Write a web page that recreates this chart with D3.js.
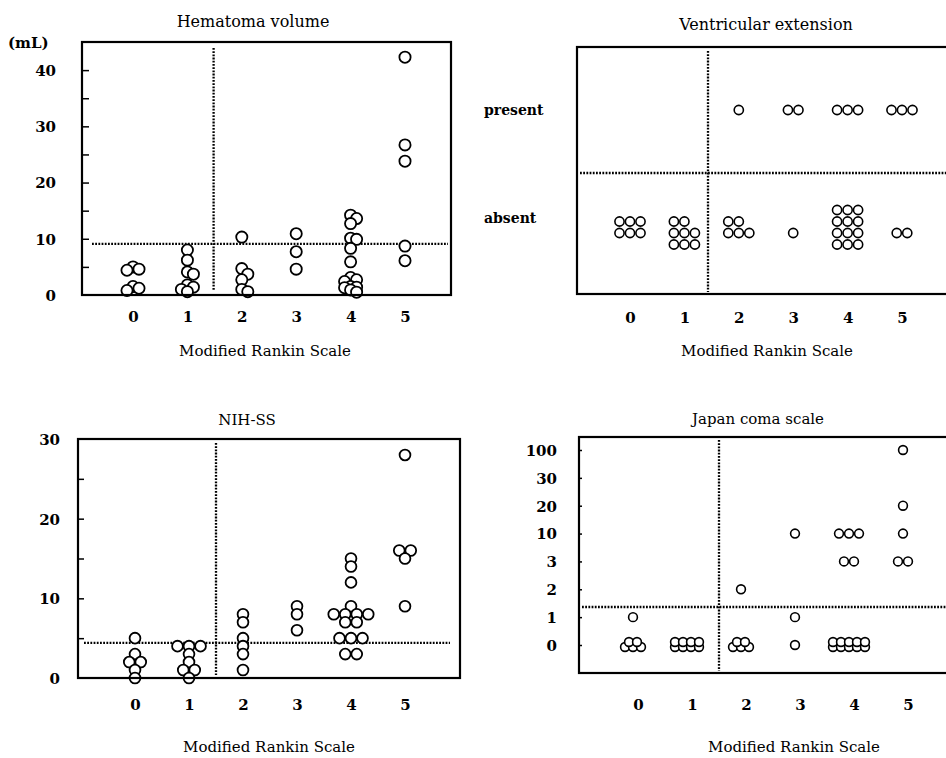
<!DOCTYPE html>
<html lang="en">
<head>
<meta charset="UTF-8">
<title>Modified Rankin Scale</title>
<script src="https://d3js.org/d3.v7.min.js"></script>
<style>
  body { margin: 0; background: #fff; }
  svg text { font-family: "DejaVu Serif", "Liberation Serif", serif; fill: #000; }
</style>
</head>
<body>
<script>
var W = 946, H = 758;

// MRS grades on every x axis
var mrs = [0, 1, 2, 3, 4, 5];
var xTitle = "Modified Rankin Scale";

// hematoma volume (mL), one list per MRS grade
var hematoma = [
  [5.0, 4.6, 4.4, 1.5, 1.2, 0.8],
  [8.0, 6.2, 4.1, 3.7, 1.8, 1.4, 1.0, 0.6],
  [10.3, 4.7, 3.7, 2.7, 1.0, 0.6],
  [10.9, 7.7, 4.6],
  [14.2, 13.6, 12.7, 10.1, 9.9, 8.3, 5.9, 3.1, 2.7, 2.4, 1.5, 1.4, 1.3, 0.9, 0.5],
  [42.3, 26.7, 23.8, 8.7, 6.1]
];
var hematomaTicks = [0, 10, 20, 30, 40];
var hematomaMinor = [5, 10, 15, 20, 25, 30, 35, 40];
var hematomaCut = 9.1;

// ventricular extension, number of patients per MRS grade
var ventLevels = ["present", "absent"];
var ventPresent = [0, 0, 1, 2, 3, 3];
var ventAbsent = [6, 8, 5, 1, 12, 2];

// NIH stroke scale, one list per MRS grade
var nihss = [
  [5, 3, 2, 2, 1, 0],
  [4, 4, 4, 3, 2, 1, 1, 0],
  [8, 7, 5, 4, 3, 1],
  [9, 8, 6],
  [15, 14, 12, 9, 8, 8, 8, 8, 7, 7, 5, 5, 5, 3, 3],
  [28, 16, 16, 15, 9]
];
var nihssTicks = [0, 10, 20, 30];
var nihssMinor = [5, 10, 15, 20, 25];
var nihssCut = 4.4;

// Japan coma scale, one list per MRS grade
var jcsLevels = ["0", "1", "2", "3", "10", "20", "30", "100"];
var jcs = [
  [1, 0, 0, 0, 0, 0],
  [0, 0, 0, 0, 0, 0, 0, 0],
  [2, 0, 0, 0, 0, 0],
  [10, 1, 0],
  [10, 10, 10, 3, 3, 0, 0, 0, 0, 0, 0, 0, 0, 0, 0],
  [100, 20, 10, 3, 3]
];

var svg = d3.select("body").append("svg").attr("width", W).attr("height", H);

function frame(b) {
  svg.append("rect")
    .attr("x", b.l).attr("y", b.t)
    .attr("width", b.r - b.l).attr("height", b.b - b.t)
    .attr("fill", "none").attr("stroke", "#000").attr("stroke-width", 2.2);
}

function text(s, x, y, size, bold, anchor) {
  return svg.append("text").attr("x", x).attr("y", y)
    .attr("font-size", size)
    .attr("font-weight", bold ? "bold" : "normal")
    .attr("text-anchor", anchor || "middle")
    .text(s);
}

function dotted(x1, y1, x2, y2) {
  svg.append("line").attr("x1", x1).attr("y1", y1).attr("x2", x2).attr("y2", y2)
    .attr("stroke", "#000").attr("stroke-width", 2.3).attr("stroke-dasharray", "1.8,1.4");
}

function xLabels(x, yc, dx) {
  var g = svg.append("g").attr("transform", "translate(" + (dx || 0) + "," + yc + ")")
    .call(d3.axisBottom(x).tickValues(mrs).tickSize(0).tickPadding(0).tickFormat(d3.format("d")));
  g.select(".domain").remove();
  g.selectAll("text").attr("y", 0).attr("dy", "0.36em")
    .attr("font-size", 15).attr("font-weight", "bold");
}

function yLabels(y, ticks, xr, fmt) {
  var g = svg.append("g").attr("transform", "translate(" + xr + ",0)")
    .call(d3.axisLeft(y).tickValues(ticks).tickSize(0).tickPadding(0).tickFormat(fmt || d3.format("d")));
  g.select(".domain").remove();
  g.selectAll("text").attr("dy", "0.36em").attr("font-size", 15).attr("font-weight", "bold");
}

function yTicks(y, ticks, xl, len) {
  var g = svg.append("g").attr("transform", "translate(" + xl + ",0)")
    .call(d3.axisRight(y).tickValues(ticks).tickSize(len).tickFormat(""));
  g.select(".domain").remove();
  g.selectAll("line").attr("stroke", "#000").attr("stroke-width", 1.5);
}

function dots(pts, r, sw) {
  svg.append("g").selectAll("circle").data(pts).enter().append("circle")
    .attr("cx", function(d) { return d.x; })
    .attr("cy", function(d) { return d.y; })
    .attr("r", r)
    .attr("fill", "#fff").attr("stroke", "#000").attr("stroke-width", sw);
}

// ---------- Hematoma volume ----------
var hb = {l: 82, t: 42, r: 451, b: 295};
var xH = d3.scaleLinear().domain([0, 5]).range([133, 405]);
var yH = d3.scaleLinear().domain([0, 45]).range([hb.b, hb.t]);

// greedy swarm in three lanes; falls back to the least crowded lane
function swarm(vals, y, step, minD) {
  var placed = [], offs = [0, step, -step];
  vals.slice().sort(d3.descending).forEach(function(v) {
    var py = y(v), best = 0, bestD = -1;
    for (var i = 0; i < offs.length; i++) {
      var d = d3.min(placed, function(p) { return Math.hypot(p.dx - offs[i], p.y - py); });
      if (d === undefined) d = Infinity;
      if (d >= minD) { best = offs[i]; break; }
      if (d > bestD) { bestD = d; best = offs[i]; }
    }
    placed.push({dx: best, y: py});
  });
  return placed;
}

var hPts = [];
hematoma.forEach(function(vals, i) {
  swarm(vals, yH, 6, 6).forEach(function(p) { hPts.push({x: xH(mrs[i]) + p.dx, y: p.y}); });
});

dotted(xH(1.5) - 1, hb.t + 6, xH(1.5) - 1, hb.b - 5);
dotted(hb.l + 10, yH(hematomaCut), hb.r - 3, yH(hematomaCut));
yTicks(yH, hematomaMinor, hb.l, 7);
dots(hPts, 5.6, 1.8);
frame(hb);
yLabels(yH, hematomaTicks, 56);
xLabels(xH, 317);
text("(mL)", 8, 48, 15, true, "start");
text("Hematoma volume", 253, 27, 16, false);
text(xTitle, 265, 356, 15, false);

// ---------- Ventricular extension ----------
var vb = {l: 577, t: 47, r: 951, b: 294};
var xV = d3.scaleLinear().domain([0, 5]).range([630, 902]);
var yV = d3.scalePoint().domain(ventLevels).range([110, 218]);
var vSp = 10.5, vGap = 11.5;

var vPts = [];
ventPresent.forEach(function(n, i) {
  for (var k = 0; k < n; k++) vPts.push({x: xV(mrs[i]) + (k - (n - 1) / 2) * vSp, y: yV("present")});
});
// rows of three: full rows from the bottom, leftover row on top
ventAbsent.forEach(function(n, i) {
  var m = Math.ceil(n / 3), bottom = m >= 3 ? 1 : 0, base = yV("absent") + 15;
  for (var r = 0; r < m; r++) {
    var inRow = Math.min(3, n - r * 3);
    for (var k = 0; k < inRow; k++) {
      var off = m === 1 ? k - (inRow - 1) / 2 : k - 1;
      vPts.push({x: xV(mrs[i]) + off * vSp, y: base + (bottom - r) * vGap});
    }
  }
});

dotted(708, vb.t + 4, 708, vb.b - 2);
dotted(vb.l + 3, 173, W, 173);
dots(vPts, 4.6, 1.6);
frame(vb);
ventLevels.forEach(function(lv) {
  text(lv, 484, yV(lv), 14, true, "start").attr("dy", "0.36em");
});
xLabels(xV, 318);
text("Ventricular extension", 766, 30, 16, false);
text(xTitle, 767, 356, 15, false);

// ---------- NIH-SS ----------
var nb = {l: 78, t: 439, r: 460, b: 678};
var xN = d3.scaleLinear().domain([0, 5]).range([135, 405]);
var yN = d3.scaleLinear().domain([0, 30]).range([nb.b, nb.t]);

var nPts = [];
nihss.forEach(function(vals, i) {
  d3.groups(vals, function(v) { return v; }).forEach(function(gr) {
    var n = gr[1].length;
    gr[1].forEach(function(v, k) {
      nPts.push({x: xN(mrs[i]) + (k - (n - 1) / 2) * 11.5, y: yN(v)});
    });
  });
});

dotted(xN(1.5), nb.t + 4, xN(1.5), nb.b - 3);
dotted(nb.l + 6, yN(nihssCut), nb.r - 10, yN(nihssCut));
yTicks(yN, nihssMinor, nb.l, 6);
dots(nPts, 5.4, 1.8);
frame(nb);
yLabels(yN, nihssTicks, 60);
xLabels(xN, 705);
text("NIH-SS", 247, 425, 15, false);
text(xTitle, 269, 752, 15, false);

// ---------- Japan coma scale ----------
var jb = {l: 579, t: 437, r: 951, b: 673};
var xJ = d3.scaleLinear().domain([0, 5]).range([633, 903]);
var yJ = d3.scalePoint().domain(jcsLevels).range([645, 450]);

var jPts = [];
jcs.forEach(function(vals, i) {
  d3.groups(vals, function(v) { return String(v); }).forEach(function(gr) {
    var n = gr[1].length, cx = xJ(mrs[i]), cy = yJ(gr[0]);
    if (n <= 3) {
      for (var k = 0; k < n; k++) jPts.push({x: cx + (k - (n - 1) / 2) * 10, y: cy});
    } else {
      // two overlapping rows
      var b = Math.ceil(n / 2), t = n - b;
      for (var k = 0; k < b; k++) jPts.push({x: cx + (k - (b - 1) / 2) * 8, y: cy + 2});
      for (var k = 0; k < t; k++) jPts.push({x: cx + (k - (t - 1) / 2) * 8, y: cy - 3});
    }
  });
});

dotted(xJ(1.5) + 5, jb.t + 3, xJ(1.5) + 5, jb.b - 2);
dotted(jb.l + 3, 607, W, 607);
yTicks(yJ, jcsLevels, jb.l, 3);
dots(jPts, 4.4, 1.6);
frame(jb);
yLabels(yJ, jcsLevels, 557, function(d) { return d; });
xLabels(xJ, 705, 5);
text("Japan coma scale", 758, 424, 15, false);
text(xTitle, 794, 752, 15, false);
</script>
</body>
</html>
